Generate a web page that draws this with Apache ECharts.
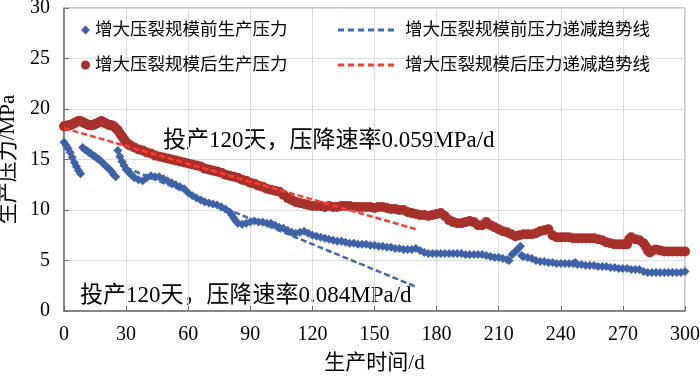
<!DOCTYPE html>
<html>
<head>
<meta charset="utf-8">
<script src="https://cdn.jsdelivr.net/npm/echarts@6/dist/echarts.min.js"></script>
<style>
  html, body { margin: 0; padding: 0; background: #fff; }
  #chart { width: 700px; height: 377px; }
</style>
</head>
<body>
<div id="chart"></div>
<script>
// days and pressures (MPa)
const beforeDays = [0, 1, 2, 3, 4, 5, 6, 7, 8,
  9, 10, 11, 12, 13, 14, 15, 16, 17, 18, 19, 20, 21, 22, 23, 24, 25,
  26, 27, 28, 29, 30, 31, 32, 33, 34, 36, 38, 40, 42, 44, 46, 48, 50, 52, 54, 56, 58,
  60, 62, 64, 66, 68, 70, 72, 74, 76, 78, 80, 81, 82, 83, 84, 86, 88, 90, 92, 94, 96, 98,
  100, 102, 104, 106, 108, 110, 112, 114, 116, 118, 120, 122, 124, 126, 128, 130, 132, 134, 136, 138,
  140, 142, 144, 146, 148, 150, 152, 154, 156, 158, 160, 162, 164, 166, 168, 170, 172, 174, 176, 178,
  180, 182, 184, 186, 188, 190, 192, 194, 196, 198, 200, 202, 204, 206, 208, 210, 212, 214, 215,
  216.5, 217.5, 218.5, 219.5, 220.5,
  221, 222, 224, 226, 228, 230, 232, 234, 236, 238, 240, 242, 244, 246, 247, 248, 250, 252, 254, 256, 258,
  260, 262, 264, 266, 268, 270, 272, 274, 276, 278, 280, 282, 284, 286, 288, 290, 292, 294, 296, 298, 300];
const beforePressure = [16.7, 16.4, 16.1, 15.7, 15.2, 14.7, 14.3, 13.9, 13.6,
  16.2, 16.0, 15.9, 15.7, 15.6, 15.4, 15.3, 15.1, 15.0, 14.8, 14.6, 14.4, 14.2, 14.0, 13.8, 13.5, 13.3,
  15.9, 15.3, 14.8, 14.4, 14.0, 13.8, 13.6, 13.4, 13.2, 13.0, 12.9, 13.2, 13.4, 13.3, 13.3, 13.1, 12.9, 12.7, 12.5, 12.3, 12.1,
  11.7, 11.4, 11.2, 11.0, 10.8, 10.7, 10.6, 10.5, 10.3, 10.1, 9.8, 9.5, 9.2, 8.9, 8.7, 8.6, 8.7, 8.8, 8.9, 8.8, 8.8, 8.7,
  8.7, 8.5, 8.3, 8.2, 8.0, 7.8, 7.7, 7.8, 7.9, 7.7, 7.5, 7.4, 7.3, 7.2, 7.1, 7.0, 6.9, 6.9, 6.8, 6.7,
  6.7, 6.6, 6.6, 6.6, 6.5, 6.5, 6.4, 6.4, 6.3, 6.3, 6.2, 6.2, 6.1, 6.1, 6.1, 6.2, 6.0, 5.8, 5.7, 5.7,
  5.7, 5.7, 5.7, 5.7, 5.7, 5.7, 5.7, 5.6, 5.6, 5.6, 5.6, 5.6, 5.5, 5.4, 5.3, 5.3, 5.2, 5.1, 5.0,
  5.6, 5.8, 6.0, 6.2, 6.4,
  5.5, 5.4, 5.3, 5.2, 5.0, 4.9, 4.9, 4.8, 4.8, 4.7, 4.7, 4.7, 4.7, 4.7, 4.8, 4.6, 4.6, 4.5, 4.5, 4.5, 4.4,
  4.4, 4.4, 4.3, 4.3, 4.2, 4.2, 4.2, 4.1, 4.1, 4.1, 3.9, 3.8, 3.8, 3.8, 3.8, 3.8, 3.8, 3.8, 3.8, 3.8, 3.9];

const afterDays = [0, 1, 2, 3, 4, 5, 6, 7, 8, 9, 10, 11, 12, 13, 14, 15, 16, 17, 18, 19, 20, 21, 22, 23, 24,
  25, 26, 27, 28, 29, 30, 31, 32, 34, 36, 38, 40, 42, 44, 46, 48, 50, 52, 54, 56, 58,
  60, 62, 64, 66, 68, 70, 72, 74, 76, 78, 80, 82, 84, 86, 88, 90, 92, 94, 96, 98,
  100, 102, 104, 106, 108, 110, 112, 114, 116, 118, 120, 122, 124, 126, 128, 130, 132, 134, 136, 138,
  140, 142, 144, 146, 148, 150, 152, 154, 156, 158, 160, 162, 164, 166, 168, 170, 172, 174, 176, 178,
  180, 182, 184, 186, 188, 190, 192, 194, 196, 198, 200, 202, 204, 206, 208, 210, 212, 214, 216, 218,
  220, 222, 224, 226, 228, 230, 232, 234, 236, 238, 240, 242, 244, 246, 248, 250, 252, 254, 256, 258,
  260, 262, 264, 266, 268, 270, 272, 273, 274, 276, 278, 280, 281, 282, 283, 284, 286, 288, 290, 292, 294, 296, 298, 300];
const afterPressure = [18.3, 18.3, 18.4, 18.4, 18.5, 18.6, 18.7, 18.8, 18.8, 18.7, 18.6, 18.5, 18.4, 18.4, 18.4, 18.5, 18.6, 18.7, 18.8, 18.7, 18.6, 18.5, 18.4, 18.4, 18.3,
  18.1, 17.9, 17.6, 17.3, 17.0, 16.7, 16.5, 16.4, 16.2, 16.0, 15.9, 15.7, 15.6, 15.4, 15.3, 15.2, 15.1, 15.0, 14.9, 14.8, 14.7,
  14.6, 14.5, 14.4, 14.3, 14.1, 14.0, 13.9, 13.8, 13.7, 13.5, 13.4, 13.3, 13.2, 13.0, 12.9, 12.7, 12.6, 12.4, 12.3, 12.1,
  12.0, 11.9, 11.8, 11.5, 11.2, 11.0, 10.8, 10.7, 10.6, 10.5, 10.4, 10.4, 10.4, 10.3, 10.4, 10.3, 10.3, 10.4, 10.4, 10.4,
  10.3, 10.3, 10.3, 10.3, 10.3, 10.2, 10.3, 10.3, 10.2, 10.1, 10.1, 10.0, 10.0, 9.8, 9.7, 9.6, 9.5, 9.5, 9.4, 9.5,
  9.6, 9.7, 9.4, 9.0, 8.8, 8.7, 8.7, 8.8, 8.9, 8.8, 8.5, 8.5, 8.8, 8.5, 8.3, 8.1, 7.9, 7.8, 7.6, 7.4,
  7.5, 7.6, 7.6, 7.6, 7.7, 7.9, 8.0, 8.1, 7.5, 7.3, 7.3, 7.3, 7.3, 7.2, 7.2, 7.2, 7.2, 7.2, 7.2, 7.1,
  7.0, 6.8, 6.7, 6.6, 6.6, 6.6, 6.6, 7.1, 7.3, 7.1, 7.0, 6.7, 6.4, 6.0, 5.8, 6.0, 6.1, 6.0, 5.9, 5.9, 5.9, 5.9, 5.9, 5.9];

// fitted decline lines (0.084 and 0.059 MPa/d), drawn out to day 170
const beforeTrendDays = [30, 170];
const beforeTrend = [14.2, 2.4];
const afterTrendDays = [0, 170];
const afterTrend = [18.1, 8.1];

const xTicks = { min: 0, max: 300, interval: 30 };
const yTicks = { min: 0, max: 30, interval: 5 };

const seriesNames = ['增大压裂规模前生产压力', '增大压裂规模后生产压力', '增大压裂规模前压力递减趋势线', '增大压裂规模后压力递减趋势线'];
const notes = ['投产120天，压降速率0.059MPa/d', '投产120天，压降速率0.084MPa/d'];

const FONT = '"Liberation Serif", "Noto Sans CJK SC", serif';
const DASH_ICON = 'path://M0,0h6v3h-6zM10,0h6v3h-6zM20,0h6v3h-6zM30,0h6v3h-6zM40,0h6v3h-6zM50,0h6v3h-6z';
const pairs = (xs, ys) => xs.map((x, i) => [x, ys[i]]);

const chart = echarts.init(document.getElementById('chart'), null, { renderer: 'canvas' });
chart.setOption({
  animation: false,
  backgroundColor: '#fff',
  grid: {
    left: 64,
    right: 15,
    top: 8,
    bottom: 66,
    containLabel: false,
    outerBoundsMode: 'none',
    show: true,
    borderColor: '#8c8c8c',
    borderWidth: 1,
  },
  legend: [
    {
      data: [
        { name: seriesNames[0], icon: 'diamond' },
        { name: seriesNames[1], icon: 'circle' },
      ],
      orient: 'vertical',
      left: 81,
      top: 20,
      padding: 0,
      itemWidth: 9,
      itemHeight: 9,
      itemGap: 15,
      selectedMode: false,
      textStyle: { fontFamily: FONT, fontSize: 17.5, color: '#000', lineHeight: 20 },
    },
    {
      data: [
        { name: seriesNames[2], icon: DASH_ICON },
        { name: seriesNames[3], icon: DASH_ICON },
      ],
      orient: 'vertical',
      left: 338,
      top: 20,
      padding: 0,
      itemWidth: 56,
      itemHeight: 3,
      itemGap: 15,
      selectedMode: false,
      textStyle: { fontFamily: FONT, fontSize: 17.5, color: '#000', lineHeight: 20, padding: [0, 0, 0, 6] },
    },
  ],
  xAxis: {
    type: 'value',
    min: xTicks.min,
    max: xTicks.max,
    interval: xTicks.interval,
    name: '生产时间/d',
    nameLocation: 'middle',
    nameGap: 42,
    nameTextStyle: { fontFamily: FONT, fontSize: 21, color: '#000' },
    axisLine: { lineStyle: { color: '#6e6e6e', width: 1.5 } },
    axisTick: { inside: true, length: 5, lineStyle: { color: '#6e6e6e' } },
    axisLabel: { fontFamily: FONT, fontSize: 20, color: '#000', margin: 14 },
    splitLine: { show: true, lineStyle: { color: '#dcdcdc' } },
  },
  yAxis: {
    type: 'value',
    min: yTicks.min,
    max: yTicks.max,
    interval: yTicks.interval,
    name: '生产压力/MPa',
    nameLocation: 'middle',
    nameGap: 44,
    nameTextStyle: { fontFamily: FONT, fontSize: 21, color: '#000' },
    axisLine: { show: true, lineStyle: { color: '#6e6e6e', width: 1.5 } },
    axisTick: { show: true, inside: true, length: 5, lineStyle: { color: '#6e6e6e' } },
    axisLabel: { fontFamily: FONT, fontSize: 20, color: '#000', margin: 14 },
    splitLine: { show: true, lineStyle: { color: '#dcdcdc' } },
  },
  graphic: [
    {
      type: 'text',
      left: 163,
      top: 129,
      silent: true,
      style: { text: notes[0], font: '23px ' + FONT, fill: '#000' },
    },
    {
      type: 'text',
      left: 80,
      top: 284,
      silent: true,
      style: { text: notes[1], font: '23px ' + FONT, fill: '#000' },
    },
  ],
  series: [
    {
      name: seriesNames[2],
      type: 'line',
      data: pairs(beforeTrendDays, beforeTrend),
      symbol: 'none',
      silent: true,
      z: 1,
      lineStyle: { color: '#4068b0', width: 2.5, type: [6, 3] },
      itemStyle: { color: '#4068b0' },
    },
    {
      name: seriesNames[0],
      type: 'scatter',
      data: pairs(beforeDays, beforePressure),
      symbol: 'diamond',
      symbolSize: 9,
      silent: true,
      z: 2,
      itemStyle: { color: '#3e62a8', opacity: 1 },
    },
    {
      name: seriesNames[1],
      type: 'scatter',
      data: pairs(afterDays, afterPressure),
      symbol: 'circle',
      symbolSize: 10,
      silent: true,
      z: 3,
      itemStyle: { color: '#a8302a', opacity: 1 },
    },
    {
      name: seriesNames[3],
      type: 'line',
      data: pairs(afterTrendDays, afterTrend),
      symbol: 'none',
      silent: true,
      z: 4,
      lineStyle: { color: '#ff3a2e', width: 2.5, type: [6, 3] },
      itemStyle: { color: '#ff3a2e' },
    },
  ],
});
</script>
</body>
</html>
